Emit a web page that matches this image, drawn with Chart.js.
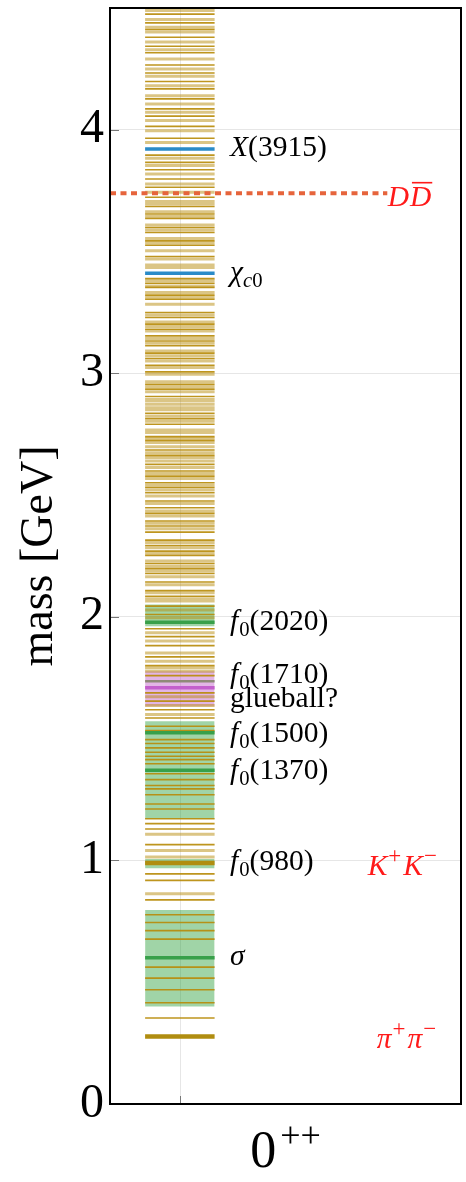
<!DOCTYPE html>
<html><head><meta charset="utf-8">
<script src="https://cdn.jsdelivr.net/npm/chart.js@4.4.1/dist/chart.umd.min.js"></script>
<style>html,body{margin:0;padding:0;background:#fff;}canvas{display:block;}</style>
</head><body>
<canvas id="c" width="466" height="1182"></canvas>
<script>
// ---------------- data ----------------
const categories = ['0++'];
const yTicks = [0, 1, 2, 3, 4];
const darkLevels = [4.475, 4.439, 4.412, 4.380, 4.343, 4.316, 4.266, 4.233, 4.198, 4.168, 4.127, 4.086, 4.056, 4.014, 3.965, 3.896, 3.866, 3.836, 3.798, 3.764, 3.723, 3.685, 3.654, 3.636, 3.599, 3.578, 3.544, 3.526, 3.480, 3.389, 3.370, 3.353, 3.321, 3.304, 3.250, 3.229, 3.202, 3.181, 3.154, 3.133, 3.113, 3.083, 3.061, 3.033, 3.006, 2.955, 2.935, 2.905, 2.836, 2.814, 2.791, 2.740, 2.724, 2.685, 2.663, 2.626, 2.599, 2.578, 2.551, 2.531, 2.510, 2.476, 2.448, 2.425, 2.394, 2.373, 2.348, 2.315, 2.293, 2.270, 2.252, 2.219, 2.198, 2.178, 2.143, 2.108, 2.085,
  2.044, 2.010, 1.951, 1.919, 1.882, 1.836, 1.800, 1.759, 1.688, 1.654, 1.619, 1.585, 1.551, 1.533, 1.496, 1.480, 1.462, 1.444, 1.428, 1.414, 1.397, 1.356, 1.332, 1.308, 1.294, 1.270, 1.232, 1.211, 1.171, 1.151, 1.129, 1.065, 0.945, 0.918, 0.838, 0.777, 0.745, 0.712, 0.677, 0.562, 0.517, 0.469, 0.416, 0.353];
const lightLevels = [4.490, 4.453, 4.421, 4.401, 4.360, 4.329, 4.291, 4.250, 4.220, 4.181, 4.140, 4.106, 4.072, 4.038, 3.996, 3.948, 3.883, 3.853, 3.818, 3.777, 3.743, 3.706, 3.695, 3.663, 3.644, 3.609, 3.589, 3.554, 3.535, 3.503, 3.469, 3.445, 3.435, 3.380, 3.359, 3.332, 3.312, 3.284, 3.239, 3.211, 3.192, 3.174, 3.143, 3.124, 3.092, 3.072, 3.051, 3.024, 2.996, 2.965, 2.946, 2.924, 2.893, 2.887, 2.873, 2.859, 2.850, 2.825, 2.803, 2.767, 2.757, 2.732, 2.716, 2.699, 2.674, 2.654, 2.640, 2.613, 2.589, 2.568, 2.540, 2.521, 2.496, 2.466, 2.435, 2.414, 2.384, 2.362, 2.305, 2.284, 2.260, 2.229, 2.208, 2.188, 2.165, 2.132, 2.099, 2.074,
  2.065, 2.028, 1.996, 1.935, 1.901, 1.852, 1.818, 1.791, 1.777, 1.672, 1.636, 1.599, 1.108, 1.041, 1.014, 0.863];
const thresholdLevels = [0.277, 0.989];
const greyLevels = [1.736];
const greenLevels = [0.600, 1.370, 1.524, 1.978];
const blueLevels = [3.411, 3.921];
const magentaLevels = [1.709];
const greenBands = [[0.400, 0.797], [0.968, 1.006], [1.171, 1.572], [1.962, 2.051]];
const pinkBands = [[1.633, 1.777]];
const thresholdDD = 3.739;

const labelTexts = [
  [{t:'X',it:1},{t:'(3915)'}],
  [{t:'\u03C7',it:1},{t:'c',it:1,sub:1},{t:'0',sub:1}],
  [{t:'f',it:1,gap:1},{t:'0',sub:1},{t:'(2020)'}],
  [{t:'f',it:1,gap:1},{t:'0',sub:1},{t:'(1710)'}],
  [{t:'glueball?'}],
  [{t:'f',it:1,gap:1},{t:'0',sub:1},{t:'(1500)'}],
  [{t:'f',it:1,gap:1},{t:'0',sub:1},{t:'(1370)'}],
  [{t:'f',it:1,gap:1},{t:'0',sub:1},{t:'(980)'}],
  [{t:'\u03C3',it:1}]
];
const labelMasses = [3.921, 3.411, 1.978, 1.760, 1.659, 1.515, 1.363, 0.991, 0.602];
const redTexts = [
  [{t:'D',it:1,gap:1},{t:'D',it:1,bar:1}],
  [{t:'K',it:1,gap:1},{t:'+',sup:1,gap:2},{t:'K',it:1,gap:1},{t:'\u2212',sup:1}],
  [{t:'\u03C0',it:1,gap:1},{t:'+',sup:1,gap:2},{t:'\u03C0',it:1,gap:1},{t:'\u2212',sup:1}]
];
const redMasses = [3.717, 0.972, 0.260];
const redX = [0.791, 0.734, 0.760];

// -------------- layout constants (x in plot fraction) --------------
const X_CAT = 0.2, X0 = 0.1, X1 = 0.298, X_LABEL = 0.342, X_DASH_END = 0.79;
const FAM = "'Liberation Serif', 'DejaVu Serif', serif";

function levelData(levels) {
  const d = [];
  levels.forEach(m => { d.push({x: X0, y: m}, {x: X1, y: m}, {x: X1, y: null}); });
  return d;
}
function lineDs(levels, color, width) {
  return {data: levelData(levels), borderColor: color, borderWidth: width, pointRadius: 0, fill: false, spanGaps: false, tension: 0};
}
function bandDs(band, color) {
  return {data: [{x: X0, y: band[1]}, {x: X1, y: band[1]}], borderColor: 'rgba(0,0,0,0)', borderWidth: 0.001,
    pointRadius: 0, fill: {value: band[0]}, backgroundColor: color, tension: 0};
}

// index 0 is drawn on top
const datasets = [
  {data: [{x: 0, y: thresholdDD}, {x: X_DASH_END, y: thresholdDD}], borderColor: '#e6643c', borderWidth: 4, borderDash: [6, 4.5], pointRadius: 0, fill: false},
  lineDs(blueLevels, '#2a8bc8', 3.5),
  lineDs(magentaLevels, '#c35fcc', 3.5),
  lineDs(greenLevels, '#38a04a', 3.5),
  lineDs(greyLevels, '#8e8a78', 2.5),
  lineDs(thresholdLevels, '#b08d10', 4.5),
  lineDs(darkLevels, 'rgba(184,140,11,0.92)', 1.6),
  lineDs(lightLevels, 'rgba(184,140,11,0.5)', 3),
  ...greenBands.map(b => bandDs(b, 'rgba(44,160,60,0.45)')),
  ...pinkBands.map(b => bandDs(b, 'rgba(190,90,200,0.45)'))
];

function drawRich(ctx, segs, x, y, fs, color) {
  ctx.save();
  ctx.fillStyle = color; ctx.textBaseline = 'alphabetic'; ctx.textAlign = 'left';
  let cx = x;
  for (const s of segs) {
    let size = fs, dy = 0;
    if (s.sub) { size = fs * 0.7; dy = fs * 0.2; }
    if (s.sup) { size = fs * 0.78; dy = -fs * 0.4; }
    ctx.font = (s.it ? 'italic ' : '') + size + 'px ' + FAM;
    ctx.fillText(s.t, cx, y + dy);
    const w = ctx.measureText(s.t).width;
    if (s.bar) ctx.fillRect(cx + 2, y - fs * 0.82, w - 1, 1.6);
    cx += w + (s.gap || 0);
  }
  ctx.restore();
}

const annot = {
  id: 'annot',
  afterDraw(chart) {
    const {ctx, chartArea: a, scales: {x, y}} = chart;
    ctx.save();
    ctx.strokeStyle = '#777'; ctx.lineWidth = 1;
    yTicks.forEach(v => { const py = Math.round(y.getPixelForValue(v)) + 0.5; ctx.beginPath(); ctx.moveTo(a.left, py); ctx.lineTo(a.left + 9, py); ctx.stroke(); });
    const px = Math.round(x.getPixelForValue(X_CAT)) + 0.5;
    ctx.beginPath(); ctx.moveTo(px, a.bottom); ctx.lineTo(px, a.bottom - 8); ctx.stroke();
    ctx.strokeStyle = '#000'; ctx.lineWidth = 2;
    ctx.strokeRect(a.left, a.top, a.right - a.left, a.bottom - a.top);
    const fs = 29.5;
    labelTexts.forEach((segs, i) => drawRich(ctx, segs, x.getPixelForValue(X_LABEL), y.getPixelForValue(labelMasses[i]) + fs * 0.25, fs, '#000'));
    redTexts.forEach((segs, i) => drawRich(ctx, segs, x.getPixelForValue(redX[i]), y.getPixelForValue(redMasses[i]) + fs * 0.25, fs, '#ff1a1a'));
    ctx.font = '52px ' + FAM; ctx.fillStyle = '#000'; ctx.textBaseline = 'alphabetic';
    const cx = (a.left + a.right) / 2;
    const w0 = ctx.measureText('0').width;
    ctx.font = '36px ' + FAM;
    const wp = ctx.measureText('++').width;
    const sx = cx - (w0 + wp + 4) / 2;
    ctx.font = '52px ' + FAM; ctx.fillText('0', sx, 1167);
    ctx.font = '36px ' + FAM; ctx.fillText('++', sx + w0 + 4, 1147);
    ctx.restore();
  }
};

new Chart(document.getElementById('c'), {
  type: 'line',
  data: {datasets},
  options: {
    responsive: false, animation: false, devicePixelRatio: 1,
    layout: {padding: {top: 8, right: 5, left: 0, bottom: 0}},
    plugins: {legend: {display: false}, tooltip: {enabled: false}},
    scales: {
      x: {type: 'linear', min: 0, max: 1,
        afterBuildTicks: s => { s.ticks = categories.map(() => ({value: X_CAT})); },
        afterFit: s => { s.height = 78; s.paddingLeft = 0; s.paddingRight = 0; },
        ticks: {callback: () => ''},
        grid: {color: '#e6e6e6', drawTicks: false, lineWidth: 1},
        border: {display: false},
        title: {display: false}
      },
      y: {type: 'linear', min: 0, max: 4.5,
        afterBuildTicks: s => { s.ticks = yTicks.map(v => ({value: v})); },
        afterFit: s => { s.width = 110; s.paddingTop = 0; s.paddingBottom = 0; },
        ticks: {color: '#000', font: {family: FAM, size: 48}, padding: 6},
        grid: {color: '#e6e6e6', drawTicks: false, lineWidth: 1},
        border: {display: false},
        title: {display: true, text: 'mass [GeV]', color: '#000', font: {family: FAM, size: 46}, padding: {top: 12, bottom: 0}}
      }
    }
  },
  plugins: [annot]
});
</script>
</body></html>
